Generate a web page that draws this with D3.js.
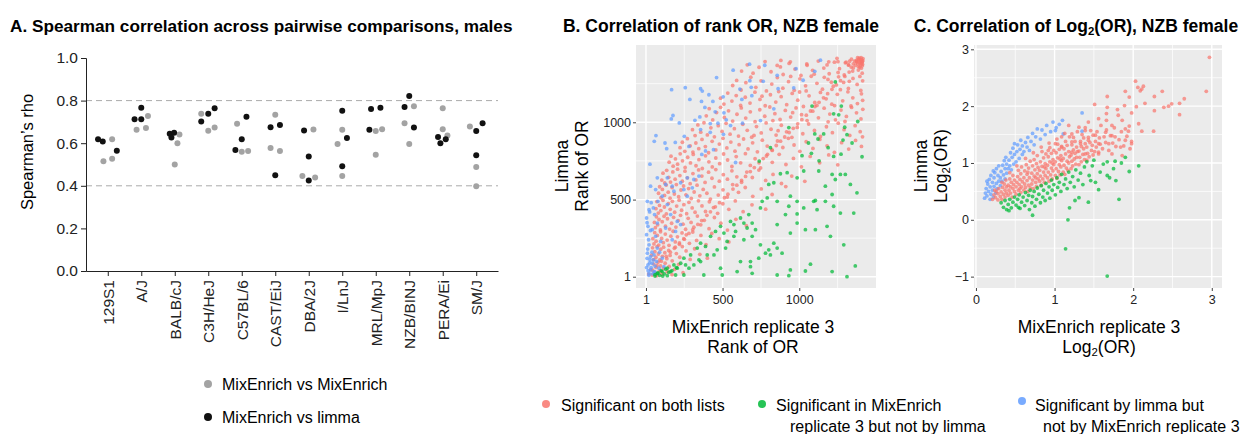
<!DOCTYPE html>
<html><head><meta charset="utf-8">
<script src="https://cdn.jsdelivr.net/npm/d3@7"></script>
<style>
html,body{margin:0;padding:0;background:#fff;}
svg{display:block;font-family:"Liberation Sans",Arial,sans-serif;}
</style></head>
<body>
<svg id="chart" width="1252" height="434"></svg>
<script>
// ---------- Panel A data ----------
const strains = ["129S1","A/J","BALB/cJ","C3H/HeJ","C57BL/6","CAST/EiJ","DBA/2J","I/LnJ","MRL/MpJ","NZB/BINJ","PERA/Ei","SM/J"];
const rhoMixMix = [
 [0.515,0.618,0.527],[0.663,0.671,0.728],[0.641,0.600,0.500],[0.738,0.658,0.674],
 [0.691,0.560,0.563],[0.577,0.733,0.563],[0.446,0.664,0.439],[0.596,0.663,0.446],
 [0.657,0.546,0.666],[0.694,0.596,0.774],[0.636,0.666,0.764],[0.678,0.488,0.398]];
const jitMixMix = [
 [-0.13,0.13,0.13],[-0.14,0.14,0.20],[0.14,0.08,0.0],[-0.21,0.0,0.19],
 [-0.14,0.0,0.19],[-0.14,0.0,0.14],[-0.19,0.14,0.19],[-0.14,0.0,0.0],
 [0.0,0.0,0.19],[-0.14,0.0,0.14],[0.14,0.0,0.0],[-0.19,0.0,0.0]];
const rhoMixLimma = [
 [0.618,0.608,0.565],[0.713,0.713,0.767],[0.644,0.649,0.627],[0.702,0.738,0.764],
 [0.568,0.618,0.724],[0.675,0.450,0.686],[0.660,0.425,0.537],[0.492,0.752,0.624],
 [0.663,0.760,0.766],[0.770,0.822,0.674],[0.629,0.600,0.618],[0.657,0.543,0.694]];
const jitMixLimma = [
 [-0.29,-0.15,0.27],[-0.20,0.0,0.0],[-0.15,-0.02,-0.10],[-0.21,0.0,0.19],
 [-0.19,0.0,0.14],[-0.14,0.0,0.14],[-0.14,0.0,0.0],[0.0,0.0,0.14],
 [-0.19,-0.14,0.14],[-0.14,0.0,0.14],[-0.14,-0.07,0.09],[0.0,0.0,0.19]];
const aTicks = [0,0.2,0.4,0.6,0.8,1.0];
const aRefLines = [0.4,0.8];

// ---------- Panel B data (rank of OR: [MixEnrich rep3, limma]) ----------
const bTicks = [1,500,1000];
const bMinor = [250.5,750.5,1250];
const rankBoth = [
[33,47],[41,12],[52,83],[58,29],[67,61],[71,8],[79,94],[88,38],[96,71],[104,19],[117,55],[126,88],[139,33],[152,67],[171,14],[188,49],[214,81],[243,27],
[38,141],[44,188],[51,112],[59,163],[66,127],[73,196],[82,148],[91,109],[97,179],[108,133],[116,192],[124,156],[137,118],[149,171],[158,139],[172,104],[186,185],[199,151],[221,127],[238,196],[262,168],[289,113],[318,182],[352,146],[401,121],
[46,247],[53,213],[58,286],[67,231],[75,268],[84,206],[96,292],[103,249],[114,221],[127,277],[139,238],[151,204],[163,263],[178,295],[192,226],[206,259],[219,211],[236,284],[251,243],[263,272],[284,217],[306,290],[331,236],[359,268],[392,209],[430,281],[478,247],[541,226],
[56,352],[62,318],[69,389],[77,337],[86,371],[95,304],[107,357],[119,392],[128,328],[141,376],[155,309],[168,347],[181,385],[196,322],[211,364],[226,398],[243,341],[259,308],[276,379],[295,352],[313,321],[336,393],[358,337],[381,366],[412,312],[447,384],[489,347],[532,303],[587,372],[655,331],
[66,441],[72,487],[81,413],[89,462],[98,429],[112,495],[121,452],[134,408],[147,474],[159,437],[173,489],[188,418],[201,458],[217,496],[233,431],[248,467],[266,409],[281,482],[302,446],[321,418],[343,492],[366,459],[389,423],[414,486],[441,448],[468,411],[502,473],[541,437],[583,491],[634,422],[692,466],[781,438],
[83,541],[90,583],[99,512],[108,566],[122,527],[133,594],[146,548],[158,509],[171,578],[186,536],[199,597],[214,519],[229,562],[246,588],[261,531],[279,571],[296,507],[315,549],[334,593],[352,524],[374,566],[398,541],[421,503],[447,582],[472,529],[503,563],[531,516],[566,597],[604,547],[648,578],[697,521],[752,569],[823,533],[912,584],
[104,626],[112,671],[123,608],[136,689],[149,644],[161,613],[176,679],[191,632],[207,697],[222,655],[238,619],[255,684],[271,641],[289,603],[307,668],[326,627],[344,692],[365,652],[386,611],[409,677],[431,638],[456,694],[479,619],[505,661],[532,632],[561,686],[593,647],[624,612],[658,678],[694,643],[737,691],[781,624],[829,663],[884,604],[951,652],[1036,618],
[152,742],[164,781],[178,716],[193,763],[207,729],[224,796],[239,751],[256,708],[273,774],[291,737],[309,792],[327,719],[346,758],[368,701],[389,783],[411,744],[433,711],[456,769],[481,732],[507,795],[533,756],[561,714],[589,778],[618,738],[649,797],[681,721],[712,764],[748,705],[786,782],[824,741],[869,793],[913,727],[962,766],[1014,712],[1071,779],[1133,738],[1192,789],[1251,725],
[223,836],[238,871],[254,812],[271,894],[289,848],[307,807],[326,866],[345,829],[366,889],[388,843],[409,803],[432,877],[456,821],[479,859],[503,896],[528,834],[554,872],[581,813],[608,855],[637,892],[666,828],[696,867],[727,809],[759,884],[791,846],[824,818],[858,879],[893,837],[929,896],[966,853],[1004,812],[1045,874],[1089,831],[1134,889],[1181,848],[1229,806],[1276,868],[1322,827],[1367,883],[1405,844],
[304,952],[321,914],[339,983],[358,936],[379,997],[401,918],[424,964],[447,906],[472,978],[497,941],[523,993],[549,923],[577,959],[604,911],[632,987],[661,948],[690,904],[721,972],[752,931],[784,996],[816,955],[849,917],[883,981],[917,938],[952,903],[987,967],[1023,926],[1061,989],[1099,947],[1138,908],[1177,971],[1216,933],[1254,994],[1292,952],[1329,915],[1364,978],[1397,939],[1412,906],[862,946],[705,915],
[394,1042],[413,1088],[436,1015],[461,1063],[487,1097],[512,1031],[539,1074],[566,1008],[594,1052],[622,1093],[651,1027],[681,1068],[712,1004],[743,1081],[775,1039],[808,1099],[841,1056],[875,1018],[909,1077],[944,1034],[979,1093],[1015,1049],[1051,1011],[1088,1072],[1125,1029],[1162,1091],[1199,1053],[1236,1016],[1272,1079],[1307,1038],[1341,1096],[1373,1061],[1402,1022],[1414,1084],[1188,1003],[957,1062],[1298,1005],[828,1011],
[487,1156],[509,1118],[534,1189],[561,1137],[589,1173],[618,1109],[648,1162],[679,1124],[711,1195],[744,1148],[778,1107],[812,1178],[847,1131],[882,1166],[918,1114],[954,1187],[990,1143],[1027,1102],[1064,1171],[1101,1128],[1138,1193],[1175,1152],[1212,1117],[1248,1181],[1283,1139],[1317,1197],[1349,1158],[1379,1121],[1405,1184],[1413,1142],[1002,1196],[1230,1108],[866,1199],[1337,1106],[757,1169],[1115,1109],
[566,1238],[592,1271],[621,1209],[652,1256],[684,1292],[717,1226],[751,1268],[786,1203],[821,1247],[857,1289],[893,1221],[930,1263],[967,1207],[1004,1281],[1041,1236],[1078,1298],[1115,1252],[1151,1214],[1187,1277],[1222,1233],[1256,1294],[1289,1258],[1320,1219],[1350,1284],[1377,1245],[1401,1206],[1413,1268],[1395,1297],[1045,1203],[1268,1211],[1163,1291],[944,1297],[1326,1265],[1209,1259],
[624,1331],[661,1372],[699,1318],[738,1356],[777,1393],[816,1327],[856,1368],[895,1309],[934,1381],[972,1344],[1011,1303],[1049,1377],[1087,1336],[1124,1396],[1160,1351],[1195,1314],[1229,1389],[1262,1347],[1293,1306],[1322,1372],[1348,1331],[1373,1394],[1394,1357],[1410,1318],[1385,1338],[1338,1357],[1305,1389],[1253,1322],[1181,1371],[1097,1311],[1406,1384],[1366,1369],
[1340,1408],[1372,1400],[1392,1415],[1405,1405],[1415,1412],[1398,1390],[1380,1418],[1360,1396],[1410,1395],[1388,1408],
[1300,1385],[1328,1395],[1352,1378],[1376,1390],[1396,1382],[1412,1376],[1252,1392],[1320,1370],[880,1400],[942,1391],[1051,1369],[1192,1391],[1246,1414],[877,1358],
[1404,1350],[1385,1360],[1411,1365],[1399,1372],[1414,1398],[1403,1418],[1391,1402],[1409,1389],
// points lying on the identity line
[18,18],[44,44],[73,73],[101,101],[133,133],[160,160],[192,192],[219,219],[247,247],[281,281],[306,306],[339,339],[364,364],
[398,398],[421,421],[453,453],[480,480],[512,512],[535,535],[568,568],[593,593],[624,624],[650,650],[681,681],[707,707],
[738,738],[765,765],[793,793],[822,822],[850,850],[878,878],[905,905],[934,934],[961,961],[990,990],[1017,1017],[1046,1046],
[1073,1073],[1102,1102],[1129,1129],[1158,1158],[1185,1185],[1213,1213],[1242,1242],[1269,1269],[1297,1297],[1325,1325],
[1352,1352],[1380,1380],[1401,1401]
];
const rankMixOnly = [
[1235,1261],[1083,1105],[1274,1105],[1224,1055],[1257,1048],[1381,1005],[1296,968],[1101,925],[1159,925],[1122,892],
[1311,920],[1344,866],[1285,885],[1188,836],[1060,866],[1272,794],[1409,777],[1224,779],[1079,799],[1129,751],
[1018,784],[812,836],[739,749],[932,966],
[877,667],[921,674],[986,641],[1029,685],[1127,685],[1214,663],[1235,630],[1300,663],[834,609],[942,522],
[801,598],[758,489],[856,489],[932,457],[986,489],[1029,446],[1105,494],[1170,489],[1214,533],[1170,587],
[1224,457],[1268,413],[1355,413],[1376,544],[1116,435],[986,407],[910,403],[856,338],[986,348],[1040,305],
[1105,305],[1181,327],[1290,207],[1203,262],[942,283],[834,218],[801,175],[780,153],[812,142],[856,186],
[888,153],[747,207],[736,121],[682,99],[617,99],[682,66],[693,23],[595,34],[487,56],[498,12],
[378,12],[248,12],[194,12],[281,56],[313,77],[357,99],[400,142],[444,142],[465,175],[520,186],
[530,229],[574,262],[639,240],[693,262],[715,305],[660,316],[585,294],[509,283],[454,294],[422,262],
[357,218],[335,186],[292,142],[248,121],[227,88],[183,77],[140,56],[107,34],[75,23],[162,34],
[205,56],[259,77],[346,110],[389,197],[487,327],[552,359],[617,381],[671,403],[747,446],[791,511],
[856,12],[932,8],[942,45],[1040,38],[1073,82],[1214,34],[1311,1],[1365,71],[1333,598],[1268,663],
[1094,489],[574,338],[639,348],[693,348],
[60,5],[90,10],[120,20],[100,40],[150,30],[80,25],[130,50],[170,40],[200,60],[110,5],[140,8],[60,15]
];
const rankLimmaOnly = [
[676,1376],[775,1369],[569,1337],[461,1289],[678,1269],[765,1265],[257,1224],[168,1211],[357,1217],[368,1202],
[411,1178],[504,1165],[613,1215],[687,1226],[287,1148],[363,1135],[437,1135],[691,1172],[626,1148],[385,1096],
[509,1061],[452,1068],[177,1044],[166,1022],[218,996],[320,1013],[352,1035],[420,992],[470,994],[524,1016],
[630,994],[552,979],[66,914],[55,877],[125,866],[192,870],[251,909],[281,844],[357,953],[420,935],
[506,922],[441,823],[365,792],[136,829],[27,729],[585,740],[856,1304],[862,1217],[964,1222],[979,1347],
[1101,1330],[1138,1402],[1025,1272],[834,1087],[747,1011],[389,815],
[10,489],[21,435],[5,381],[14,327],[5,273],[21,207],[10,153],[27,110],[14,77],[31,45],
[21,23],[42,88],[53,142],[75,186],[97,229],[64,262],[42,305],[75,348],[57,403],[49,446],
[79,489],[107,522],[64,565],[129,598],[140,641],[172,587],[183,554],[227,609],[248,565],[270,641],
[313,630],[346,652],[303,576],[140,468],[162,403],[129,316],[194,294],[172,240],[227,338],[205,359],
[270,522],[107,121],[86,56],[53,34],[118,66],[31,587],[75,641],
[5,60],[15,40],[25,90],[8,120],[30,130],[12,180],[35,60],[45,20],[20,10],[60,70],
[40,160],[18,240],[30,300],[8,350],[25,420],[35,480],[60,30],[50,110],[70,100],[90,160]
];

// ---------- Panel C data (log2 OR: [MixEnrich rep3, limma]) ----------
const cXTicks = [0,1,2,3];
const cXMinor = [0.5,1.5,2.5];
const cYTicks = [-1,0,1,2,3];
const cYMinor = [-0.5,0.5,1.5,2.5];
const logBoth = [
[2.97,2.86],[2.93,2.26],[2.03,2.44],[2.06,2.33],[2.11,2.30],[2.09,2.27],[2.13,2.35],[1.90,2.26],[1.95,2.16],[1.67,2.17],
[2.27,2.17],[2.37,2.26],[2.15,2.05],[2.04,1.99],[1.89,2.01],[1.51,2.03],[1.67,1.98],[1.80,1.94],[2.27,1.92],[2.39,1.98],
[2.45,2.00],[2.49,2.04],[2.59,2.05],[2.65,2.13],[2.59,1.85],[1.66,1.87],[1.66,1.75],[1.81,1.84],[1.98,1.88],
[2.07,1.69],[2.11,1.56],[2.26,1.56],[1.94,1.56],[1.86,1.75],[1.73,1.66],[1.56,1.78],[1.43,1.72],[1.31,1.63],[1.18,1.66],
[1.22,1.51],[1.39,1.57],[1.52,1.49],[1.65,1.54],[1.77,1.46],[1.90,1.40],[1.98,1.34],[1.84,1.28],[1.69,1.34],[1.56,1.34],
[1.43,1.40],[1.33,1.34],[1.22,1.37],[1.09,1.46],[1.01,1.34],[1.09,1.28],[0.92,1.22],[1.22,1.19],[1.39,1.16],[1.56,1.19],
[1.73,1.16],[1.86,1.13],[1.96,1.25],[1.90,1.60],[1.73,1.48],
[0.21,0.36],[0.23,0.44],[0.25,0.39],[0.26,0.50],[0.28,0.35],[0.28,0.46],[0.29,0.55],[0.24,0.52],
[0.31,0.41],[0.32,0.49],[0.33,0.36],[0.34,0.57],[0.35,0.45],[0.36,0.63],[0.37,0.40],[0.37,0.52],[0.38,0.70],[0.39,0.47],[0.33,0.66],[0.39,0.58],
[0.41,0.43],[0.41,0.61],[0.42,0.52],[0.43,0.72],[0.44,0.47],[0.44,0.58],[0.45,0.66],[0.46,0.40],[0.47,0.55],[0.47,0.78],[0.48,0.62],[0.49,0.50],[0.49,0.70],[0.43,0.83],
[0.51,0.45],[0.51,0.58],[0.52,0.66],[0.53,0.76],[0.54,0.52],[0.54,0.87],[0.55,0.62],[0.56,0.71],[0.57,0.48],[0.57,0.81],[0.58,0.58],[0.58,0.93],[0.59,0.67],[0.52,0.95],[0.56,0.55],
[0.61,0.52],[0.61,0.74],[0.62,0.63],[0.62,0.86],[0.63,0.57],[0.64,0.97],[0.65,0.69],[0.65,0.80],[0.66,0.50],[0.67,0.61],[0.67,0.91],[0.68,0.74],[0.69,0.56],[0.69,1.03],[0.63,1.08],[0.66,0.84],
[0.71,0.63],[0.71,0.82],[0.72,0.70],[0.72,0.95],[0.73,0.55],[0.74,0.77],[0.74,1.06],[0.75,0.88],[0.76,0.66],[0.77,0.99],[0.77,0.59],[0.78,0.81],[0.78,1.13],[0.79,0.72],[0.79,0.92],[0.73,1.18],[0.76,0.74],
[0.81,0.68],[0.81,0.87],[0.82,0.77],[0.82,1.02],[0.83,0.61],[0.84,0.94],[0.84,1.20],[0.85,0.72],[0.86,0.84],[0.86,1.09],[0.87,0.66],[0.88,0.99],[0.88,0.78],[0.89,1.16],[0.89,0.90],[0.83,1.28],[0.87,0.93],
[0.91,0.74],[0.91,0.96],[0.92,0.84],[0.92,1.11],[0.93,0.68],[0.94,1.02],[0.94,1.27],[0.95,0.79],[0.96,0.91],[0.96,1.17],[0.97,0.72],[0.98,1.06],[0.98,0.86],[0.99,1.22],[0.99,0.97],[0.93,1.35],[0.97,1.00],
[1.01,0.78],[1.01,1.02],[1.02,0.90],[1.02,1.18],[1.03,0.73],[1.04,1.09],[1.04,1.33],[1.05,0.85],[1.06,0.97],[1.06,1.24],[1.07,0.79],[1.08,1.13],[1.08,0.93],[1.09,1.29],[1.09,1.04],[1.03,1.42],[1.07,1.07],
[1.11,0.84],[1.11,1.08],[1.12,0.96],[1.12,1.25],[1.13,0.80],[1.14,1.16],[1.14,1.38],[1.15,0.91],[1.16,1.03],[1.16,1.31],[1.17,0.87],[1.18,1.20],[1.18,1.00],[1.19,1.46],[1.19,1.11],[1.13,1.52],
[1.21,0.90],[1.21,1.14],[1.22,1.03],[1.22,1.32],[1.23,0.95],[1.24,1.23],[1.24,1.45],[1.25,1.07],[1.26,1.17],[1.26,1.38],[1.27,0.98],[1.28,1.28],[1.28,1.10],[1.29,1.55],[1.29,1.20],
[1.31,0.97],[1.31,1.21],[1.32,1.10],[1.33,1.38],[1.34,1.02],[1.34,1.29],[1.35,1.50],[1.36,1.15],[1.37,1.25],[1.37,1.44],[1.38,1.06],[1.39,1.34],[1.39,1.62],
[1.41,1.05],[1.41,1.28],[1.42,1.17],[1.43,1.45],[1.44,1.11],[1.45,1.36],[1.46,1.57],[1.47,1.22],[1.48,1.31],[1.49,1.49],[1.49,1.14],
[1.51,1.20],[1.52,1.38],[1.53,1.28],[1.54,1.55],[1.56,1.16],[1.57,1.44],[1.58,1.33],[1.59,1.66],
[1.61,1.25],[1.63,1.46],[1.65,1.36],[1.66,1.58],[1.69,1.22],[1.71,1.48],[1.74,1.35],[1.76,1.62],[1.78,1.29],
[1.82,1.41],[1.85,1.55],[1.88,1.30],[1.92,1.47],[1.95,1.65],[1.98,1.38]
];
const logMixOnly = [
[1.17,0.00],[1.14,-0.51],[1.67,-0.99],[1.82,0.36],[1.56,0.53],[0.72,0.08],[2.07,0.95],[1.19,0.21],[1.43,0.31],[1.31,0.39],
[1.26,0.34],[0.54,0.22],[1.67,0.78],[1.78,0.69],[1.46,0.69],[1.41,1.02],[1.50,1.05],[1.67,1.02],[1.77,1.03],[1.90,1.10],
[0.32,0.30],[0.35,0.22],[0.37,0.34],[0.39,0.18],[0.41,0.27],[0.43,0.36],[0.45,0.21],[0.47,0.31],[0.49,0.40],[0.42,0.16],
[0.51,0.26],[0.53,0.36],[0.55,0.44],[0.56,0.20],[0.58,0.31],[0.60,0.40],[0.62,0.25],[0.63,0.48],[0.65,0.34],[0.67,0.43],[0.68,0.18],[0.69,0.52],
[0.71,0.30],[0.72,0.41],[0.74,0.50],[0.75,0.24],[0.77,0.36],[0.78,0.56],[0.80,0.45],[0.82,0.30],[0.83,0.60],[0.85,0.40],[0.86,0.52],[0.88,0.34],[0.89,0.64],
[0.91,0.47],[0.93,0.58],[0.94,0.38],[0.96,0.70],[0.97,0.52],[0.99,0.62],[1.01,0.44],[1.03,0.74],[1.04,0.57],[1.06,0.66],[1.08,0.50],[1.09,0.80],
[1.12,0.62],[1.14,0.72],[1.16,0.55],[1.18,0.84],[1.20,0.66],[1.23,0.76],[1.25,0.58],[1.27,0.88],[1.30,0.70],[1.33,0.82],[1.36,0.62],[1.38,0.93],
[1.44,0.78],[1.48,0.95],[1.52,0.66],[1.58,0.84],[1.62,0.98],[1.70,0.74],[1.75,0.90],[1.85,1.00],[1.95,0.85]
];
const logLimmaOnly = [
[0.11,0.38],[0.12,0.47],[0.13,0.55],[0.14,0.42],[0.15,0.63],[0.16,0.50],[0.17,0.71],[0.18,0.36],[0.18,0.58],[0.19,0.45],[0.19,0.78],[0.14,0.68],
[0.21,0.52],[0.21,0.66],[0.22,0.40],[0.23,0.74],[0.23,0.59],[0.24,0.83],[0.25,0.47],[0.26,0.64],[0.26,0.90],[0.27,0.55],[0.28,0.78],[0.29,0.68],[0.29,0.95],[0.22,0.86],
[0.31,0.74],[0.31,0.60],[0.32,0.85],[0.33,0.68],[0.34,0.96],[0.35,0.79],[0.36,1.04],[0.37,0.72],[0.37,0.90],[0.38,1.10],[0.39,0.82],[0.39,0.98],
[0.41,0.90],[0.42,1.05],[0.43,0.95],[0.44,1.18],[0.45,0.88],[0.46,1.10],[0.47,1.26],[0.48,0.98],[0.49,1.15],[0.49,1.34],
[0.51,1.02],[0.52,1.20],[0.53,1.32],[0.55,1.08],[0.56,1.24],[0.57,1.40],[0.59,1.15],[0.59,1.30],
[0.61,1.20],[0.63,1.36],[0.65,1.28],[0.66,1.45],[0.68,1.22],[0.70,1.38],[0.72,1.52],[0.74,1.32],[0.76,1.46],[0.78,1.60],
[0.82,1.42],[0.84,1.58],[0.88,1.50],[0.90,1.66],[0.95,1.55],[0.98,1.72],[1.02,1.62],[1.06,1.68],[1.10,1.75],
[1.35,1.88],[1.35,1.56],[1.11,1.51],[1.01,1.57]
];

// ---------- colours ----------
const colBoth = "#F8766D", colMix = "#00BA38", colLimma = "#619CFF";
const svg = d3.select("#chart");
const FONT = "Liberation Sans, Arial, sans-serif";
const TITLE = 17.5, AXT = 17.5, LEG = 16;

// ================= Panel A =================
const aX = d3.scalePoint().domain(strains).range([86,498]).padding(0.65);
const aY = d3.scaleLinear().domain([0,1]).range([271,58]);
const aStep = aX.step();
const gA = svg.append("g");
gA.append("text").attr("x",10).attr("y",32).attr("font-size",17.2).attr("font-weight","bold").text("A. Spearman correlation across pairwise comparisons, males");
gA.selectAll("line.ref").data(aRefLines).join("line").attr("class","ref")
  .attr("x1",86).attr("x2",498).attr("y1",d=>aY(d)).attr("y2",d=>aY(d))
  .attr("stroke","#aaa").attr("stroke-width",1).attr("stroke-dasharray","6,4");
const aYAxis = gA.append("g").attr("transform","translate(86,0)")
  .call(d3.axisLeft(aY).tickValues(aTicks).tickFormat(d3.format(".1f")).tickSize(5).tickPadding(3));
aYAxis.selectAll("text").attr("font-size",15.5).attr("font-family",FONT).attr("fill","#222");
aYAxis.select(".domain").attr("stroke","#222");
aYAxis.selectAll(".tick line").attr("stroke","#222");
const aXAxis = gA.append("g").attr("transform","translate(0,271)")
  .call(d3.axisBottom(aX).tickSize(5).tickSizeOuter(0).tickPadding(3));
aXAxis.select(".domain").attr("stroke","#222");
aXAxis.selectAll(".tick line").attr("stroke","#222");
aXAxis.selectAll("text").attr("font-size",15.5).attr("font-family",FONT).attr("fill","#222")
  .attr("transform","rotate(-90)").attr("text-anchor","end").attr("x",-9).attr("y",0).attr("dy","0.35em");
gA.append("text").attr("transform","translate(33,152) rotate(-90)").attr("text-anchor","middle")
  .attr("font-size",16.5).text("Spearman\u2019s rho");
const aGray = [], aBlack = [];
strains.forEach((s,i)=>{
  rhoMixMix[i].forEach((v,j)=>aGray.push({s,v,j:jitMixMix[i][j]}));
  rhoMixLimma[i].forEach((v,j)=>aBlack.push({s,v,j:jitMixLimma[i][j]}));
});
gA.selectAll("circle.g").data(aGray).join("circle").attr("class","g")
  .attr("cx",d=>aX(d.s)+d.j*aStep).attr("cy",d=>aY(d.v)).attr("r",3).attr("fill","#a3a3a3");
gA.selectAll("circle.b").data(aBlack).join("circle").attr("class","b")
  .attr("cx",d=>aX(d.s)+d.j*aStep).attr("cy",d=>aY(d.v)).attr("r",3).attr("fill","#111");
const legA = [{label:"MixEnrich vs MixEnrich",c:"#a3a3a3",y:384},{label:"MixEnrich vs limma",c:"#111",y:417}];
legA.forEach(l=>{
  gA.append("circle").attr("cx",208).attr("cy",l.y).attr("r",4).attr("fill",l.c);
  gA.append("text").attr("x",222).attr("y",l.y+5.5).attr("font-size",LEG).text(l.label);
});

// ================= scatter panel helper =================
function scatterPanel(opt){
  const g = svg.append("g");
  const x = d3.scaleLinear().domain(opt.xd).range([opt.x0,opt.x1]);
  const y = d3.scaleLinear().domain(opt.yd).range([opt.y1,opt.y0]);
  g.append("rect").attr("x",opt.x0).attr("y",opt.y0).attr("width",opt.x1-opt.x0).attr("height",opt.y1-opt.y0).attr("fill","#EBEBEB");
  g.selectAll("line.xm").data(opt.xMinor).join("line").attr("x1",d=>x(d)).attr("x2",d=>x(d)).attr("y1",opt.y0).attr("y2",opt.y1).attr("stroke","#fff").attr("stroke-width",0.7);
  g.selectAll("line.ym").data(opt.yMinor).join("line").attr("y1",d=>y(d)).attr("y2",d=>y(d)).attr("x1",opt.x0).attr("x2",opt.x1).attr("stroke","#fff").attr("stroke-width",0.7);
  g.selectAll("line.xM").data(opt.xTicks).join("line").attr("x1",d=>x(d)).attr("x2",d=>x(d)).attr("y1",opt.y0).attr("y2",opt.y1).attr("stroke","#fff").attr("stroke-width",1.4);
  g.selectAll("line.yM").data(opt.yTicks).join("line").attr("y1",d=>y(d)).attr("y2",d=>y(d)).attr("x1",opt.x0).attr("x2",opt.x1).attr("stroke","#fff").attr("stroke-width",1.4);
  opt.layers.forEach(([data,c])=>{
    g.append("g").selectAll("circle").data(data).join("circle")
      .attr("cx",d=>x(d[0])).attr("cy",d=>y(d[1])).attr("r",opt.r).attr("fill",c).attr("fill-opacity",0.72);
  });
  const xa = g.append("g").attr("transform",`translate(0,${opt.y1})`)
    .call(d3.axisBottom(x).tickValues(opt.xTicks).tickFormat(d3.format("d")).tickSize(3).tickPadding(4).tickSizeOuter(0));
  const ya = g.append("g").attr("transform",`translate(${opt.x0},0)`)
    .call(d3.axisLeft(y).tickValues(opt.yTicks).tickFormat(d3.format("d")).tickSize(3).tickPadding(2).tickSizeOuter(0));
  [xa,ya].forEach(a=>{
    a.select(".domain").remove();
    a.selectAll(".tick line").attr("stroke","#444");
    a.selectAll("text").attr("font-size",12.5).attr("font-family",FONT).attr("fill","#222");
  });
  return g;
}

// ================= Panel B =================
const gB = scatterPanel({x0:636,x1:876,y0:45,y1:288,xd:[-64,1500],yd:[-72,1500],
  xTicks:bTicks,yTicks:bTicks,xMinor:bMinor,yMinor:bMinor,r:1.9,
  layers:[[rankBoth,colBoth],[rankLimmaOnly,colLimma],[rankMixOnly,colMix]]});
gB.append("text").attr("x",721).attr("y",32).attr("text-anchor","middle").attr("font-size",TITLE).attr("font-weight","bold").text("B. Correlation of rank OR, NZB female");
gB.append("text").attr("x",753).attr("y",333).attr("text-anchor","middle").attr("font-size",AXT).text("MixEnrich replicate 3");
gB.append("text").attr("x",753).attr("y",353).attr("text-anchor","middle").attr("font-size",AXT).text("Rank of OR");
gB.append("text").attr("transform","translate(568,166) rotate(-90)").attr("text-anchor","middle").attr("font-size",AXT).text("Limma");
gB.append("text").attr("transform","translate(588,166) rotate(-90)").attr("text-anchor","middle").attr("font-size",AXT).text("Rank of OR");

// ================= Panel C =================
const gC = scatterPanel({x0:974,x1:1222,y0:45,y1:288,xd:[-0.025,3.13],yd:[-1.2,3.076],
  xTicks:cXTicks,yTicks:cYTicks,xMinor:cXMinor,yMinor:cYMinor,r:1.9,
  layers:[[logLimmaOnly,colLimma],[logBoth,colBoth],[logMixOnly,colMix]]});
function log2Text(sel){
  sel.append("tspan").text("Log");
  sel.append("tspan").attr("font-size","0.65em").attr("dy","0.3em").text("2");
  sel.append("tspan").attr("dy","-0.2em").text("(OR)");
}
const tC = gC.append("text").attr("x",1076).attr("y",32).attr("text-anchor","middle").attr("font-size",TITLE).attr("font-weight","bold");
tC.append("tspan").text("C. Correlation of Log");
tC.append("tspan").attr("font-size","0.65em").attr("dy","0.3em").text("2");
tC.append("tspan").attr("dy","-0.2em").text("(OR), NZB female");
gC.append("text").attr("x",1099).attr("y",333).attr("text-anchor","middle").attr("font-size",AXT).text("MixEnrich replicate 3");
gC.append("text").attr("x",1099).attr("y",353).attr("text-anchor","middle").attr("font-size",AXT).call(log2Text);
gC.append("text").attr("transform","translate(927,166) rotate(-90)").attr("text-anchor","middle").attr("font-size",AXT).text("Limma");
gC.append("text").attr("transform","translate(947,166) rotate(-90)").attr("text-anchor","middle").attr("font-size",AXT).call(log2Text);

// ================= Legend B/C =================
const legBC = [
  {c:colBoth, cx:546, cy:404, tx:561, lines:[["Significant on both lists",0]]},
  {c:colMix, cx:762, cy:404, tx:776, lines:[["Significant in MixEnrich",0],["replicate 3 but not by limma",14]]},
  {c:colLimma, cx:1022, cy:401, tx:1035, lines:[["Significant by limma but",0],["not by MixEnrich replicate 3",8]]}
];
legBC.forEach(l=>{
  svg.append("circle").attr("cx",l.cx).attr("cy",l.cy).attr("r",4).attr("fill",l.c).attr("fill-opacity",0.85);
  l.lines.forEach((ln,i)=>{
    svg.append("text").attr("x",l.tx+ln[1]).attr("y",411+i*21).attr("font-size",LEG).text(ln[0]);
  });
});
</script>
</body></html>
